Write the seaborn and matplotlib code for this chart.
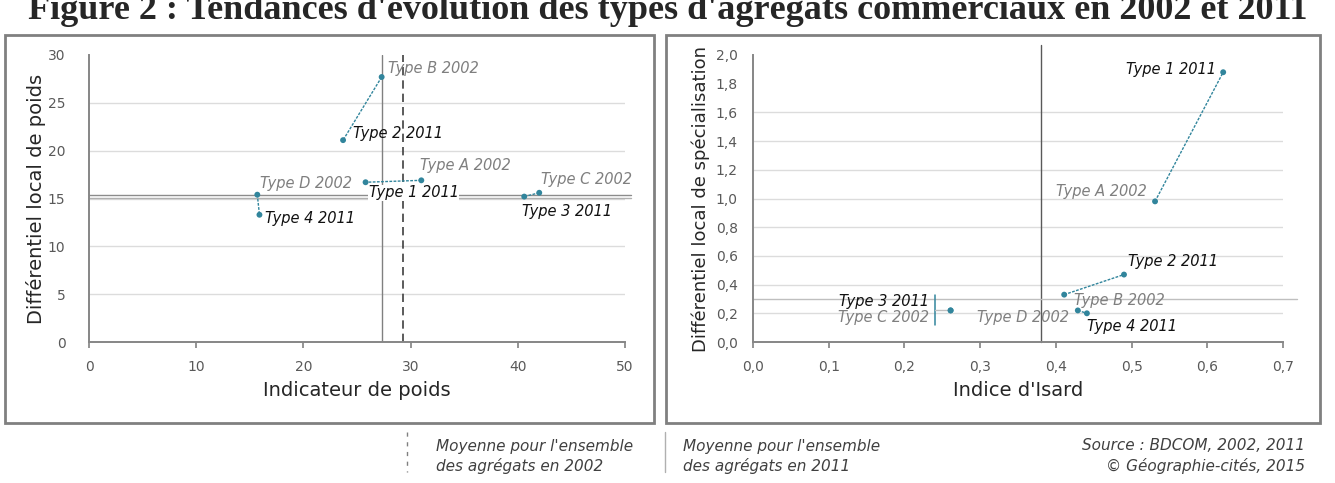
import pandas as pd
import matplotlib.pyplot as plt
import matplotlib.patches as mpatches
import seaborn as sns

sns.set_theme(style="white")
plt.rcParams['font.family'] = ['DejaVu Sans']

# Left panel: Indicateur de poids / Différentiel local de poids
left_labels = ["Type B 2002", "Type 2 2011", "Type A 2002", "Type 1 2011",
               "Type C 2002", "Type 3 2011", "Type D 2002", "Type 4 2011"]
left_x = [27.3, 23.7, 31.0, 25.8, 42.0, 40.6, 15.7, 15.9]
left_y = [27.7, 21.1, 16.9, 16.7, 15.6, 15.2, 15.4, 13.3]
pairs = ["B", "B", "A", "A", "C", "C", "D", "D"]
years = [2002, 2011, 2002, 2011, 2002, 2011, 2002, 2011]
left_mean_x = {2002: 29.3, 2011: 27.3}
left_mean_y = {2002: 15.05, 2011: 15.4}

# Right panel: Indice d'Isard / Différentiel local de spécialisation
right_labels = ["Type A 2002", "Type 1 2011", "Type B 2002", "Type 2 2011",
                "Type C 2002", "Type 3 2011", "Type D 2002", "Type 4 2011"]
right_x = [0.531, 0.621, 0.411, 0.490, 0.261, 0.261, 0.429, 0.441]
right_y = [0.98, 1.88, 0.33, 0.47, 0.22, 0.22, 0.22, 0.20]
right_mean_x = 0.381
right_mean_y = 0.30

teal = "#31859C"

# label offsets in points (ha, dx, dy)
left_offsets = {"Type B 2002": ("left", 4.6, 6.2), "Type 2 2011": ("left", 6.9, 4.8),
                "Type A 2002": ("left", -0.7, 10.4), "Type 1 2011": ("left", 2.3, -7.6),
                "Type C 2002": ("left", 1.5, 9.6), "Type 3 2011": ("left", -1.5, -11),
                "Type D 2002": ("left", 2.3, 8.3), "Type 4 2011": ("left", 3.9, -2.8)}
right_offsets = {"Type 1 2011": ("right", -5.5, 2.1), "Type A 2002": ("right", -6, 7.2),
                 "Type 2 2011": ("left", 2.7, 9.3), "Type B 2002": ("left", 7.1, -4.1),
                 "Type D 2002": ("right", -6, -5.2), "Type 4 2011": ("left", 0, -9.3),
                 "Type 3 2011": ("right", -15.3, 6.2), "Type C 2002": ("right", -15.3, -5.2)}

df_left = pd.DataFrame({"label": left_labels, "x": left_x, "y": left_y,
                        "pair": pairs, "year": years})
df_right = pd.DataFrame({"label": right_labels, "x": right_x, "y": right_y,
                         "pair": ["A", "A", "B", "B", "C", "C", "D", "D"], "year": years})

fig = plt.figure(figsize=(13.35, 4.83), dpi=100)
W, H = 1335, 483


def fx(px):
    return px / W


def fy(py):
    return 1 - py / H


# panel frames
for x0, x1 in [(5, 654), (666, 1320)]:
    fig.patches.append(mpatches.Rectangle((fx(x0), fy(423)), fx(x1 - x0), (423 - 35) / H,
                                          transform=fig.transFigure, fill=False,
                                          edgecolor="#808080", lw=2))

fig.text(0.5, fy(19), "Figure 2 : Tendances d'évolution des types d'agrégats commerciaux en 2002 et 2011",
         ha="center", va="baseline", fontsize=26, fontweight="bold", family="Liberation Serif")

axL = fig.add_axes([fx(89), fy(342), fx(625 - 89), (342 - 55) / H])
axR = fig.add_axes([fx(753), fy(342), fx(1283 - 753), (342 - 55) / H])


def style_axis(ax):
    for s in ["top", "right"]:
        ax.spines[s].set_visible(False)
    for s in ["left", "bottom"]:
        ax.spines[s].set_color("#868686")
        ax.spines[s].set_linewidth(1.4)
    ax.grid(axis="y", color="#dcdcdc", lw=1)
    ax.grid(axis="x", visible=False)
    ax.tick_params(axis="x", bottom=True, length=4, color="#868686", labelsize=10,
                   labelcolor="#595959", pad=9)
    ax.tick_params(axis="y", left=False, labelsize=10, labelcolor="#595959")
    ax.set_axisbelow(True)


def draw(ax, df, offsets):
    sns.lineplot(data=df, x="x", y="y", units="pair", estimator=None, sort=False,
                 color=teal, lw=1, linestyle=(0, (2, 1)), ax=ax, zorder=3)
    sns.scatterplot(data=df, x="x", y="y", color=teal, s=18, edgecolor="none", ax=ax, zorder=4)
    for _, r in df.iterrows():
        ha, dx, dy = offsets[r["label"]]
        col = "#7f7f7f" if r["year"] == 2002 else "#111111"
        kw = {}
        if r["label"] == "Type 1 2011" and ax is axL:
            kw["bbox"] = dict(facecolor="white", edgecolor="none", pad=0.5)
        ax.annotate(r["label"], (r["x"], r["y"]), xytext=(dx, dy), textcoords="offset points",
                    ha=ha, va="center", fontsize=10.5, style="italic", color=col, zorder=5, **kw)


# left chart
style_axis(axL)
axL.set_xlim(0, 50)
axL.set_ylim(0, 30)
axL.set_xticks(range(0, 51, 10))
axL.set_yticks(range(0, 31, 5))
axL.tick_params(axis="y", pad=11)
axL.get_ygridlines()[-1].set_visible(False)
axL.plot([left_mean_x[2011]] * 2, [0, 30], color="#808080", lw=1, zorder=2)
axL.plot([left_mean_x[2002]] * 2, [0, 30], color="#404040", lw=1.2, ls=(0, (5, 3)), zorder=2)
for yr, c in [(2011, "#8c8c8c"), (2002, "#b0b0b0")]:
    axL.plot([0, 50.6], [left_mean_y[yr]] * 2, color=c, lw=1, clip_on=False, zorder=2)
draw(axL, df_left, left_offsets)
axL.set_xlabel("Indicateur de poids", fontsize=14, color="#262626", labelpad=5)
axL.set_ylabel("Différentiel local de poids", fontsize=14, color="#262626", labelpad=1)

# right chart
style_axis(axR)
axR.set_xlim(0, 0.7)
axR.set_ylim(0, 2.0)
axR.set_xticks([i / 10 for i in range(8)])
axR.set_yticks([i / 5 for i in range(11)])
axR.set_xticklabels([f"{i / 10:.1f}".replace(".", ",") for i in range(8)])
axR.set_yticklabels([f"{i / 5:.1f}".replace(".", ",") for i in range(11)])
axR.tick_params(axis="y", pad=5)
for g in axR.get_ygridlines()[-2:]:
    g.set_visible(False)
axR.plot([right_mean_x] * 2, [0, 2.07], color="#595959", lw=1, clip_on=False, zorder=2)
axR.plot([0, 0.718], [right_mean_y] * 2, color="#bfbfbf", lw=1, clip_on=False, zorder=2)
# leader bracket for overlapping Type 3 2011 / Type C 2002
axR.plot([0.240, 0.240], [0.12, 0.33], color=teal, lw=1.1, zorder=3)
axR.plot([0.240, 0.261], [0.22, 0.22], color="#bfbfbf", lw=1, zorder=3)
draw(axR, df_right, right_offsets)
axR.set_xlabel("Indice d'Isard", fontsize=14, color="#262626", labelpad=5)
axR.set_ylabel("Différentiel local de spécialisation", fontsize=13, color="#262626", labelpad=4)

# footer legend
fig.add_artist(plt.Line2D([fx(407)] * 2, [fy(432), fy(472)], color="#808080", lw=1,
                          ls=(0, (3, 4)), transform=fig.transFigure))
fig.add_artist(plt.Line2D([fx(665)] * 2, [fy(432), fy(472)], color="#b0b0b0", lw=1,
                          transform=fig.transFigure))
foot = dict(fontsize=11, style="italic", color="#404040", va="center")
fig.text(fx(436), fy(446), "Moyenne pour l'ensemble", **foot)
fig.text(fx(436), fy(466), "des agrégats en 2002", **foot)
fig.text(fx(683), fy(446), "Moyenne pour l'ensemble", **foot)
fig.text(fx(683), fy(466), "des agrégats en 2011", **foot)
fig.text(fx(1305), fy(446), "Source : BDCOM, 2002, 2011", ha="right", **foot)
fig.text(fx(1305), fy(466), "© Géographie-cités, 2015", ha="right", **foot)

fig.savefig("out.png", dpi=100, facecolor="white")
